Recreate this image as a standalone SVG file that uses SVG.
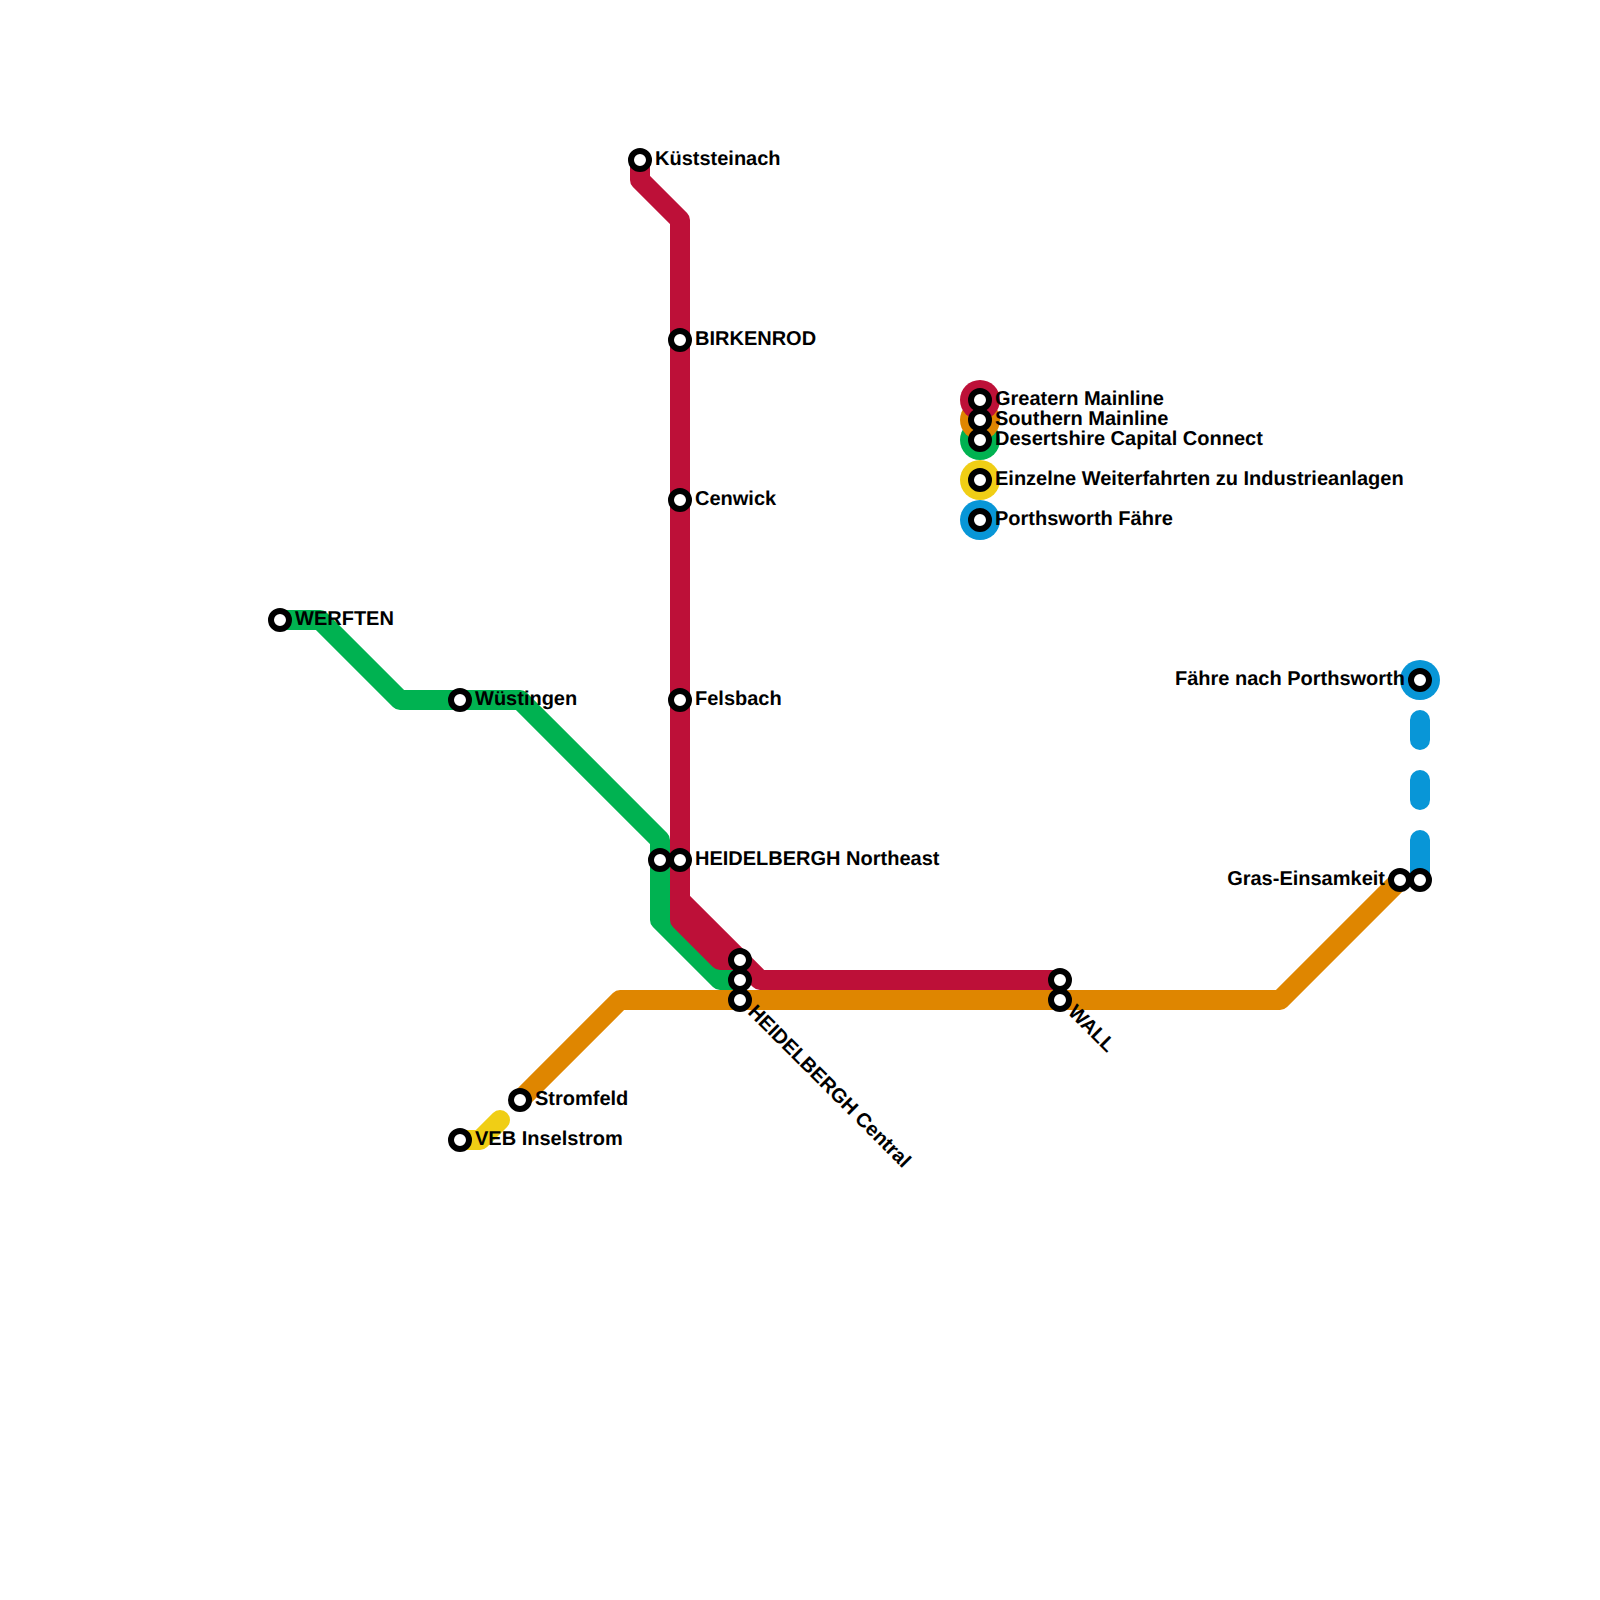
<svg xmlns="http://www.w3.org/2000/svg" width="1600" height="1600" viewBox="0 0 1600 1600">
<style>
.line{fill:none;stroke-width:20;stroke-linejoin:round}
.red{stroke:#bd1038}.orange{stroke:#df8600}.green{stroke:#00b251}.yellow{stroke:#f0ce15;stroke-linecap:round}.blue{stroke:#0896d7;stroke-linecap:round;stroke-dasharray:20 40 20 40 40}
.st{fill:#fff;stroke:#000;stroke-width:6}
text{font-family:"Liberation Sans",Arial,sans-serif;font-size:20px;font-weight:bold;fill:#000;text-rendering:geometricPrecision}
.end{text-anchor:end}
</style>
<rect width="1600" height="1600" fill="#fff"/>
<g id="connectors">
<path class="line yellow" d="M460 1140H480L500 1120"/>
<path class="line blue" d="M1420 720V880"/>
<path class="line green" d="M280 620H320L400 700H520L660 840V920L720 980H740"/>
<path class="line orange" d="M520 1100L620 1000H1280L1400 880"/>
<path class="line red" d="M640 160V180L680 220V900L760 980H1060"/>
<path class="line red" d="M680 860V920L720 960H740"/>
</g>
<g id="legend-greatern"><circle cx="980" cy="440" r="20" fill="#00b251"/></g>
<g id="legend-southern"><circle cx="980" cy="420" r="20" fill="#df8600"/></g>
<g id="legend-mainline"><circle cx="980" cy="400" r="20" fill="#bd1038"/></g>
<g id="legend-weiter"><circle cx="980" cy="480" r="20" fill="#f0ce15"/></g>
<g id="legend-porth"><circle cx="980" cy="520" r="20" fill="#0896d7"/></g>
<g id="ferry-ring"><circle cx="1420" cy="680" r="20" fill="#0896d7"/></g>
<g id="kueststeinach"><circle class="st" cx="640" cy="160" r="9"/><text x="655" y="165">Küststeinach</text></g>
<g id="birkenrod"><circle class="st" cx="680" cy="340" r="9"/><text x="695" y="345">BIRKENROD</text></g>
<g id="cenwick"><circle class="st" cx="680" cy="500" r="9"/><text x="695" y="505">Cenwick</text></g>
<g id="felsbach"><circle class="st" cx="680" cy="700" r="9"/><text x="695" y="705">Felsbach</text></g>
<g id="heidelbergh-ne"><circle class="st" cx="660" cy="860" r="9"/><circle class="st" cx="680" cy="860" r="9"/><text x="695" y="865">HEIDELBERGH Northeast</text></g>
<g id="heidelbergh-central"><circle class="st" cx="740" cy="960" r="9"/><circle class="st" cx="740" cy="980" r="9"/><circle class="st" cx="740" cy="1000" r="9"/><text transform="translate(747 1013) rotate(45)">HEIDELBERGH Central</text></g>
<g id="wall"><circle class="st" cx="1060" cy="980" r="9"/><circle class="st" cx="1060" cy="1000" r="9"/><text transform="translate(1067 1013) rotate(45)">WALL</text></g>
<g id="werften"><circle class="st" cx="280" cy="620" r="9"/><text x="295" y="625">WERFTEN</text></g>
<g id="wuestingen"><circle class="st" cx="460" cy="700" r="9"/><text x="475" y="705">Wüstingen</text></g>
<g id="stromfeld"><circle class="st" cx="520" cy="1100" r="9"/><text x="535" y="1105">Stromfeld</text></g>
<g id="veb"><circle class="st" cx="460" cy="1140" r="9"/><text x="475" y="1145">VEB Inselstrom</text></g>
<g id="gras"><circle class="st" cx="1400" cy="880" r="9"/><circle class="st" cx="1420" cy="880" r="9"/><text class="end" x="1385" y="885">Gras-Einsamkeit</text></g>
<g id="faehre"><circle class="st" cx="1420" cy="680" r="9"/><text class="end" x="1405" y="685">Fähre nach Porthsworth</text></g>
<g id="key-1"><circle class="st" cx="980" cy="400" r="9"/><text x="995" y="405">Greatern Mainline</text></g>
<g id="key-2"><circle class="st" cx="980" cy="420" r="9"/><text x="995" y="425">Southern Mainline</text></g>
<g id="key-3"><circle class="st" cx="980" cy="440" r="9"/><text x="995" y="445">Desertshire Capital Connect</text></g>
<g id="key-4"><circle class="st" cx="980" cy="480" r="9"/><text x="995" y="485">Einzelne Weiterfahrten zu Industrieanlagen</text></g>
<g id="key-5"><circle class="st" cx="980" cy="520" r="9"/><text x="995" y="525">Porthsworth Fähre</text></g>
</svg>
